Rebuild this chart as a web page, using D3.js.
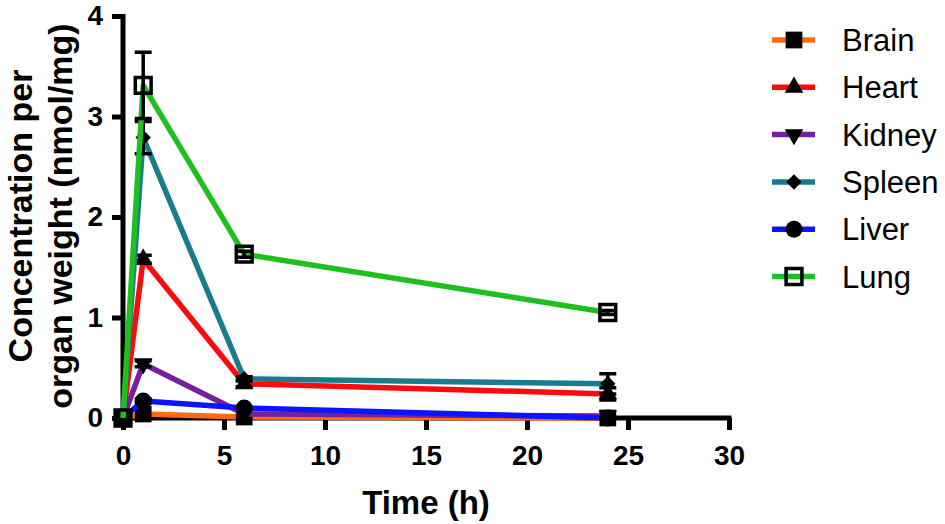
<!DOCTYPE html>
<html>
<head>
<meta charset="utf-8">
<script src="https://cdn.jsdelivr.net/npm/d3@7"></script>
<style>
  body { margin: 0; background: #fff; }
  svg { display: block; font-family: "Liberation Sans", Arial, sans-serif; }
</style>
</head>
<body>
<svg id="vis" width="945" height="524"></svg>
<script>
// data
const times = [0, 1, 6, 24];
const organs = ['Brain', 'Heart', 'Kidney', 'Spleen', 'Liver', 'Lung'];
const brain = [0.0, 0.04, 0.01, 0.0];
const heart = [0.0, 1.58, 0.34, 0.24];
const kidney = [0.0, 0.54, 0.04, 0.02];
const spleen = [0.0, 2.79, 0.39, 0.34];
const liver = [0.0, 0.17, 0.1, 0.0];
const lung = [0.0, 3.31, 1.63, 1.05];
// SEM (error bars)
const brainErr = [0, 0.01, 0.01, 0.01];
const heartErr = [0, 0.04, 0.03, 0.06];
const kidneyErr = [0, 0.03, 0.01, 0.01];
const spleenErr = [0, 0.16, 0.02, 0.1];
const liverErr = [0, 0.02, 0.01, 0.01];
const lungErr = [0, 0.33, 0.03, 0.02];
const xTicks = [0, 5, 10, 15, 20, 25, 30];
const yTicks = [0, 1, 2, 3, 4];

const colors = ['#ff6a10', '#ff0a0a', '#761fa0', '#1a7a8e', '#0a14ff', '#1fbf1f'];
const values = [brain, heart, kidney, spleen, liver, lung];
const errs = [brainErr, heartErr, kidneyErr, spleenErr, liverErr, lungErr];

let vis = d3.select('#vis');

const x = d3.scaleLinear().domain([0, 30]).range([123, 729]);
const y = d3.scaleLinear().domain([0, 4]).range([418, 16]);

// marker shapes: square, triangle, inverted triangle, diamond, circle, open square
const symbols = [
  { type: d3.symbolSquare, size: 280, rot: 0, fill: '#000' },
  { type: d3.symbolTriangle, size: 150, rot: 0, fill: '#000' },
  { type: d3.symbolTriangle, size: 150, rot: 180, fill: '#000' },
  { type: d3.symbolSquare, size: 120, rot: 45, fill: '#000' },
  { type: d3.symbolCircle, size: 225, rot: 0, fill: '#000' },
  { type: d3.symbolSquare, size: 250, rot: 0, fill: 'none' }
];

// axes
const xAxis = d3.axisBottom(x).tickValues(xTicks).tickSize(12).tickPadding(15).tickFormat(d3.format('d'));
const yAxis = d3.axisLeft(y).tickValues(yTicks).tickSize(11).tickPadding(9).tickFormat(d3.format('d'));

const gx = vis.append('g').attr('transform', `translate(0,${y(0)})`).call(xAxis);
const gy = vis.append('g').attr('transform', `translate(${x(0)},0)`).call(yAxis);
[gx, gy].forEach(g => {
  g.select('.domain').attr('stroke', '#000').attr('stroke-width', 5);
  g.selectAll('.tick line').attr('stroke', '#000').attr('stroke-width', 5);
  g.selectAll('.tick text')
    .attr('fill', '#000')
    .style('font-size', '28px')
    .style('font-weight', 'bold')
    .style('font-family', '"Liberation Sans", Arial, sans-serif');
});
gx.select('.domain').attr('d', `M${x(0) - 2.5},0H${x(30) + 2.5}`);
gy.select('.domain').attr('d', `M0,${y(4) - 2}V${y(0) + 2.5}`);

// axis titles
vis.append('text')
  .attr('x', (x(0) + x(30)) / 2).attr('y', 514)
  .attr('text-anchor', 'middle')
  .style('font-size', '33px').style('font-weight', 'bold')
  .text('Time (h)');

const yTitle = vis.append('text')
  .attr('transform', 'translate(0,216) rotate(-90)')
  .attr('text-anchor', 'middle')
  .style('font-size', '34px').style('font-weight', 'bold');
yTitle.append('tspan').attr('x', 0).attr('y', 32).text('Concentration per');
yTitle.append('tspan').attr('x', 0).attr('y', 72).text('organ weight (nmol/mg)');

const line = d3.line().x(d => x(d[0])).y(d => y(d[1]));

organs.forEach((name, i) => {
  const pts = times.map((t, j) => [t, values[i][j], errs[i][j]]);
  const g = vis.append('g').attr('class', 'series');

  g.append('path')
    .attr('d', line(pts))
    .attr('fill', 'none')
    .attr('stroke', colors[i])
    .attr('stroke-width', 5.5)
    .attr('stroke-linejoin', 'round');

  // error bars
  g.selectAll('.err')
    .data(pts.filter(d => d[2] > 0.015))
    .enter()
    .append('path')
    .attr('d', d => {
      const cx = x(d[0]), t = y(d[1] + d[2]), b = y(d[1] - d[2]);
      return `M${cx},${t}V${b}M${cx - 8.5},${t}H${cx + 8.5}M${cx - 8.5},${b}H${cx + 8.5}`;
    })
    .attr('stroke', '#000')
    .attr('stroke-width', 3.5)
    .attr('fill', 'none');

  const s = symbols[i];
  g.selectAll('.pt')
    .data(pts)
    .enter()
    .append('path')
    .attr('d', d3.symbol().type(s.type).size(s.size))
    .attr('transform', d => `translate(${x(d[0])},${y(d[1])}) rotate(${s.rot})`)
    .attr('fill', s.fill)
    .attr('stroke', '#000')
    .attr('stroke-width', s.fill === 'none' ? 3.5 : 0);
});

// legend
const legend = vis.append('g').attr('transform', 'translate(772,40)');
const rows = legend.selectAll('g')
  .data(organs)
  .enter()
  .append('g')
  .attr('transform', (d, i) => `translate(0,${i * 47.3})`);

rows.append('line')
  .attr('x1', 0).attr('x2', 43)
  .attr('stroke', (d, i) => colors[i])
  .attr('stroke-width', 5.5);

rows.append('path')
  .attr('d', (d, i) => d3.symbol().type(symbols[i].type).size(symbols[i].size)())
  .attr('transform', (d, i) => `translate(22,0) rotate(${symbols[i].rot})`)
  .attr('fill', (d, i) => symbols[i].fill)
  .attr('stroke', '#000')
  .attr('stroke-width', (d, i) => symbols[i].fill === 'none' ? 3.5 : 0);

rows.append('text')
  .attr('x', 70).attr('y', 11)
  .style('font-size', '31px')
  .text(d => d);
</script>
</body>
</html>
